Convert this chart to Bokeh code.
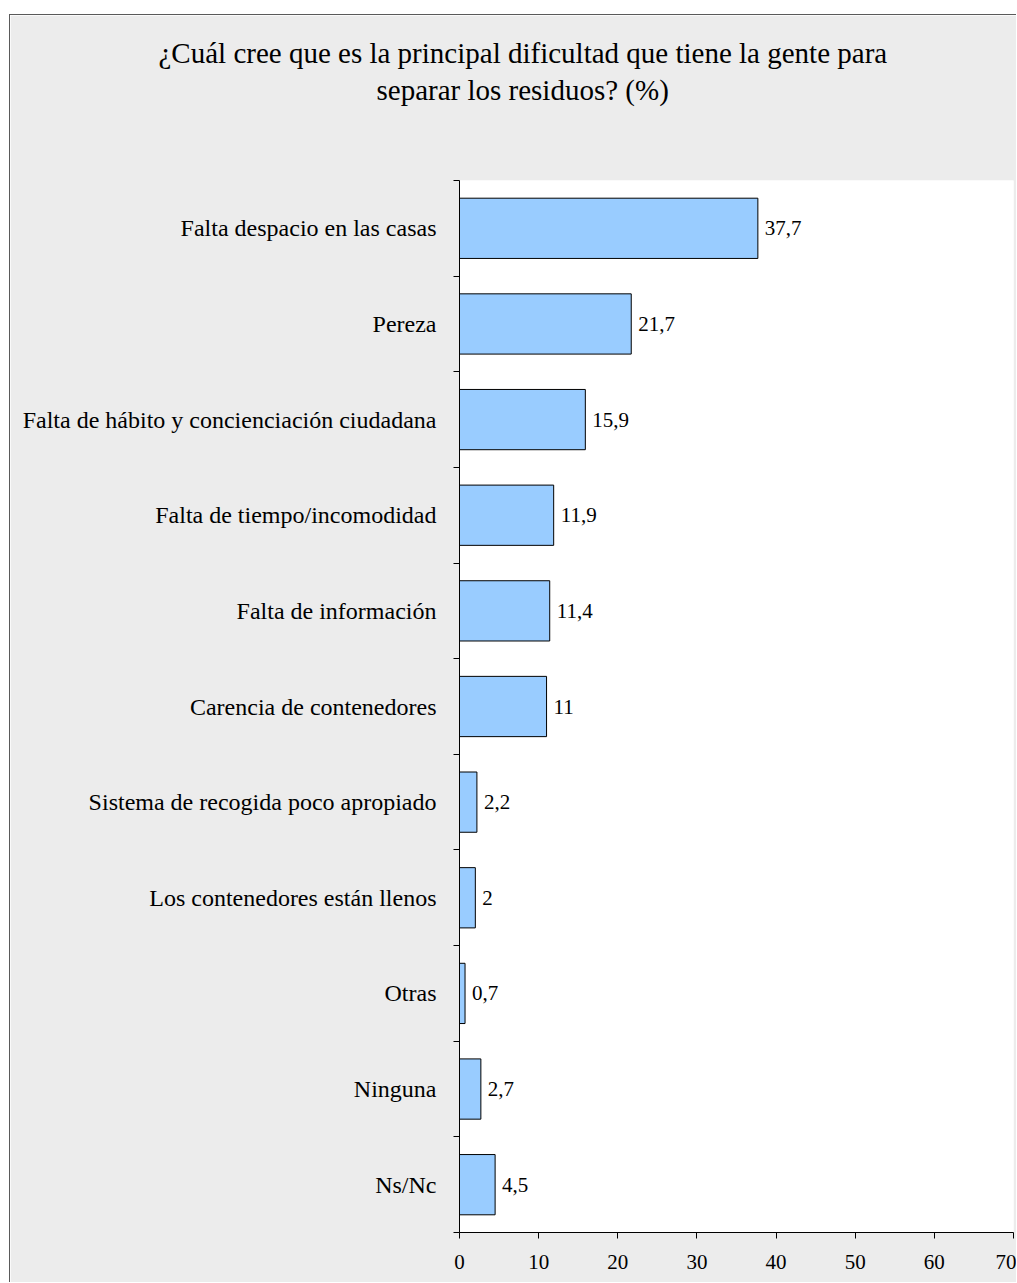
from bokeh.plotting import figure
from bokeh.models import Range1d, FixedTicker, Title, ColumnDataSource, LinearAxis
from bokeh.core.properties import value
from bokeh.embed import file_html
from bokeh.resources import INLINE

# ---- data ----
categories = [
    "Falta despacio en las casas",
    "Pereza",
    "Falta de hábito y concienciación ciudadana",
    "Falta de tiempo/incomodidad",
    "Falta de información",
    "Carencia de contenedores",
    "Sistema de recogida poco apropiado",
    "Los contenedores están llenos",
    "Otras",
    "Ninguna",
    "Ns/Nc",
]
values = [37.7, 21.7, 15.9, 11.9, 11.4, 11, 2.2, 2, 0.7, 2.7, 4.5]
x_ticks = [0, 10, 20, 30, 40, 50, 60, 70]
title_lines = [
    "¿Cuál cree que es la principal dificultad que tiene la gente para",
    "separar los residuos? (%)",
]

FONT = "Liberation Serif"
n = len(categories)
ypos = [n - i - 0.5 for i in range(n)]
labels = [f"{v:g}".replace(".", ",") for v in values]

# ---- layout constants (page pixels) ----
CV_LEFT, CV_TOP = 10, 15          # canvas origin on the page
W, H = 1007, 1268
FL, FR, FT, FB = 459, 1013, 180, 1232

p = figure(
    width=W, height=H,
    x_range=Range1d(0, 70), y_range=Range1d(0, n),
    output_backend="svg", toolbar_location=None,
    min_border_left=FL - CV_LEFT, min_border_right=(CV_LEFT + W) - FR,
    min_border_top=FT - CV_TOP, min_border_bottom=(CV_TOP + H) - FB,
)
p.margin = (14, 0, 0, 9)
p.styles = {"border-left": "1px solid #5a5a5a", "border-top": "1px solid #5a5a5a"}
p.border_fill_color = "#ececec"
p.background_fill_color = "white"
p.outline_line_color = None
p.xgrid.grid_line_color = None
p.ygrid.grid_line_color = None

src = ColumnDataSource(dict(y=ypos, v=values, lab=labels))
p.hbar(y="y", left=0, right="v", height=0.63, source=src,
       fill_color="#99ccff", line_color="black", line_width=1)
p.text(x="v", y="y", text="lab", source=src, x_offset=7,
       text_baseline="middle", text_align="left",
       text_font=value(FONT), text_font_size="21px", text_color="black")

# x axis
xa = p.xaxis[0]
xa.ticker = FixedTicker(ticks=x_ticks)
xa.minor_tick_line_color = None
xa.major_tick_out = 6
xa.major_tick_in = 0
xa.major_label_standoff = 16
xa.axis_line_color = "black"
xa.major_tick_line_color = "black"
xa.major_label_text_font = FONT
xa.major_label_text_font_size = "21px"
xa.major_label_text_color = "black"

# y axis: labels at category centres, tick marks at boundaries
ya = p.yaxis[0]
ya.ticker = FixedTicker(ticks=ypos, minor_ticks=list(range(n + 1)))
ya.major_label_overrides = {y: c for y, c in zip(ypos, categories)}
ya.major_tick_out = 0
ya.major_tick_in = 0
ya.minor_tick_out = 6
ya.minor_tick_in = 0
ya.minor_tick_line_color = "black"
ya.axis_line_color = "black"
ya.major_label_standoff = 17
ya.major_label_text_font = FONT
ya.major_label_text_font_size = "24px"
ya.major_label_text_color = "black"

# invisible spacer between the frame and the title lines
spacer = LinearAxis(ticker=FixedTicker(ticks=[x_ticks[0]], minor_ticks=[]),
                    major_label_overrides={x_ticks[0]: ""},
                    axis_line_color=None, major_tick_line_color=None,
                    minor_tick_line_color=None, major_tick_out=75,
                    major_tick_in=0, minor_tick_out=0, minor_tick_in=0,
                    major_label_standoff=0, major_label_text_font_size="1px")
p.add_layout(spacer, "above")

# title: two lines stacked in the "above" panel (first added = nearest frame)
p.add_layout(Title(text=title_lines[1], align="left", offset=376 - FL,
                   standoff=0, text_font=FONT, text_font_size="29px",
                   text_font_style="normal", text_color="black"), "above")
p.add_layout(Title(text=title_lines[0], align="left", offset=158 - FL,
                   standoff=6, text_font=FONT, text_font_size="29px",
                   text_font_style="normal", text_color="black"), "above")

open("out.html", "w").write(file_html(p, INLINE))
